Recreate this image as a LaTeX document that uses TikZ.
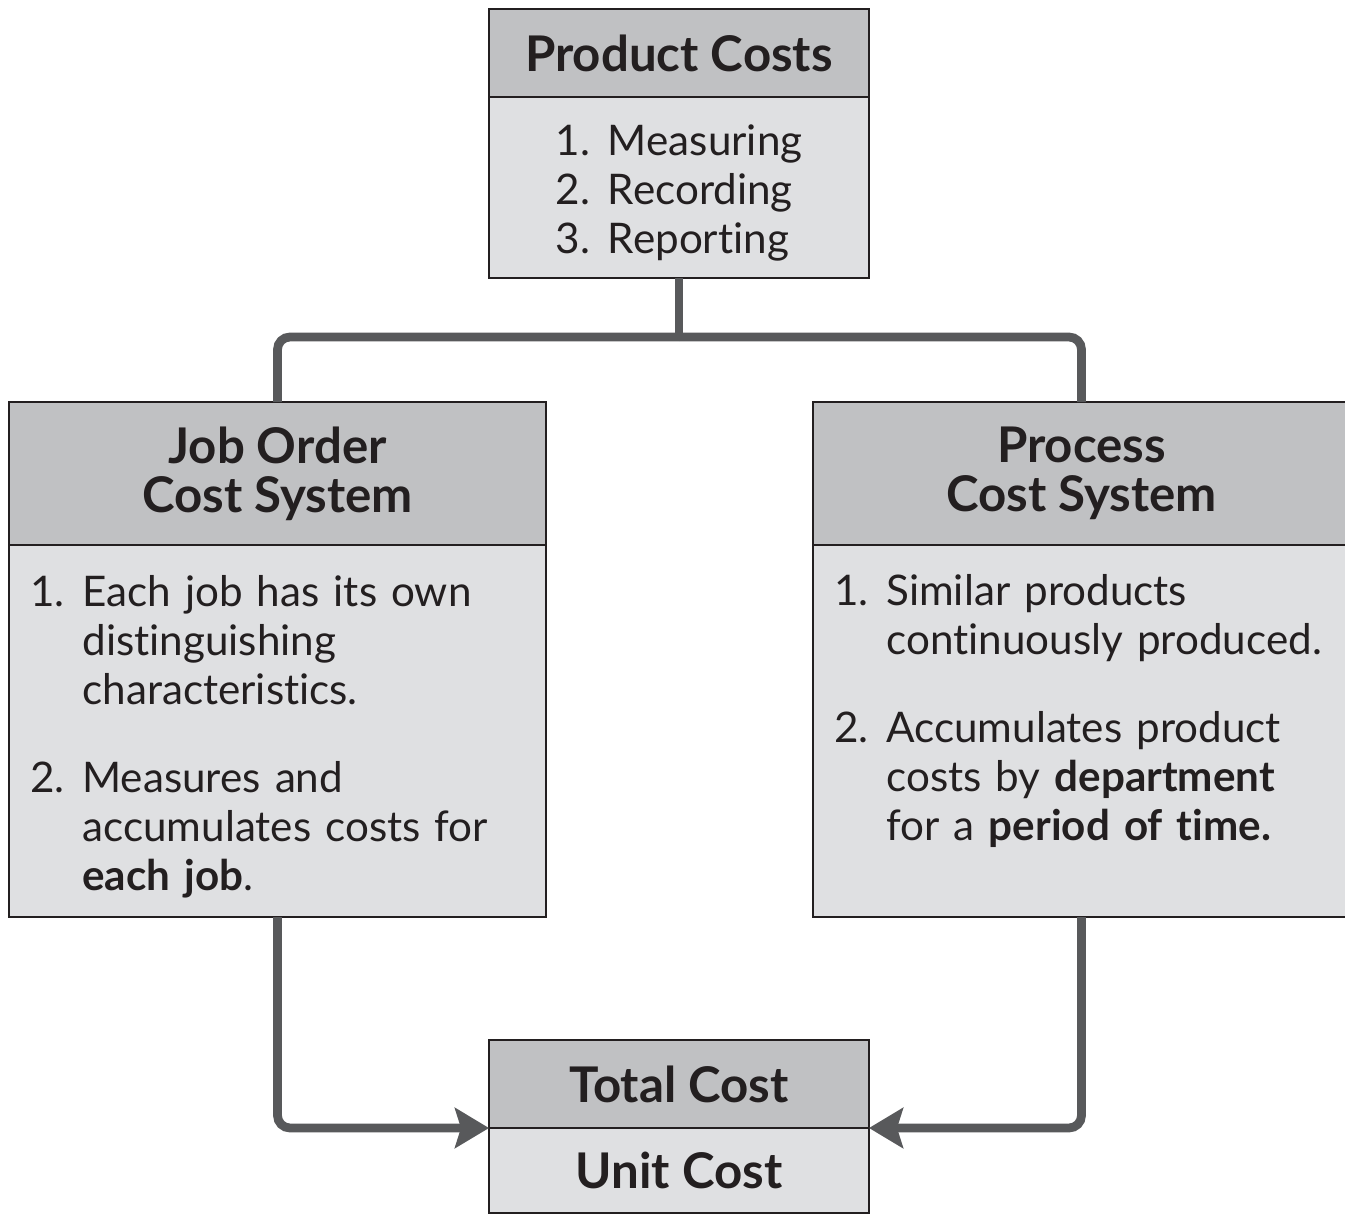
\documentclass[tikz,border=0pt]{standalone}
\usepackage{fontspec}
\setmainfont{Lato}[Ligatures=NoCommon]
\usetikzlibrary{positioning,arrows.meta}
\definecolor{headgray}{HTML}{C0C1C3}
\definecolor{bodygray}{HTML}{DFE0E2}
\definecolor{linegray}{HTML}{58595B}
\definecolor{ink}{HTML}{231F20}
\newcommand{\lowered}[1]{\raisebox{-0.15cm}[\height][\depth]{#1}}
\begin{document}
\begin{tikzpicture}[
    font=\fontsize{24}{27.9}\selectfont, text=ink,
    head/.style={draw=ink, line width=1.1pt, fill=headgray, outer sep=0pt, inner sep=0pt,
        align=center, font=\fontsize{28}{27.9}\selectfont\bfseries},
    body/.style={draw=ink, line width=1.1pt, fill=bodygray, outer sep=0pt, inner sep=0pt},
    items/.style={body, minimum width=10.74cm, minimum height=7.44cm, text width=9.9cm,
        inner xsep=0.42cm, align=left},
    conn/.style={draw=linegray, line width=5pt, rounded corners=0.25cm},
    tip/.style={-{Stealth[length=0.68cm,width=0.8cm,inset=0.12cm]}}
  ]
  \useasboundingbox (0,0) rectangle (26.9,-24.3);
  \def\gap{\\[0.78cm]}
  % top box
  \node[head, minimum width=7.6cm, minimum height=1.76cm] (pcHead) at (13.58,-1.06) {Product Costs};
  \node[body, below=0pt of pcHead, minimum width=7.6cm, minimum height=3.62cm] (pcBody)
    {\lowered{\begin{tabular}{@{}r@{\hspace{0.36cm}}l@{}}1.&Measuring\\2.&Recording\\3.&Reporting\end{tabular}}};
  % the two systems
  \node[head, minimum width=10.74cm, minimum height=2.86cm] (jobHead) at (5.55,-9.47) {Job Order\\Cost System};
  \node[items, below=0pt of jobHead] (jobBody)
    {\lowered{\begin{tabular}{@{}r@{\hspace{0.36cm}}l@{}}
      1.&Each job has its own\\ &distinguishing\\ &characteristics.\gap
      2.&Measures and\\ &accumulates costs for\\ &\textbf{each job}.
    \end{tabular}}};
  \node[head, minimum width=10.74cm, minimum height=2.86cm] (procHead) at (21.63,-9.47) {Process\\Cost System};
  \node[items, below=0pt of procHead] (procBody)
    {\begin{tabular}{@{}r@{\hspace{0.36cm}}l@{}}
      1.&Similar products\\ &continuously produced.\gap
      2.&Accumulates product\\ &costs by \textbf{department}\\ &for a \textbf{period of time.}\\[0.72cm]
    \end{tabular}};
  % bottom box
  \node[head, minimum width=7.6cm, minimum height=1.76cm] (totHead) at (13.58,-21.68) {Total Cost};
  \node[head, fill=bodygray, below=0pt of totHead, minimum width=7.6cm, minimum height=1.7cm] (unitBox) {Unit Cost};
  % connectors
  \coordinate (split) at (13.58,-6.74);
  \draw[conn] (pcBody.south) -- (split);
  \draw[conn] (split) -| (jobHead.north);
  \draw[conn] (split) -| (procHead.north);
  \draw[conn,tip] (jobBody.south) |- (totHead.south west);
  \draw[conn,tip] (procBody.south) |- (totHead.south east);
\end{tikzpicture}
\end{document}
